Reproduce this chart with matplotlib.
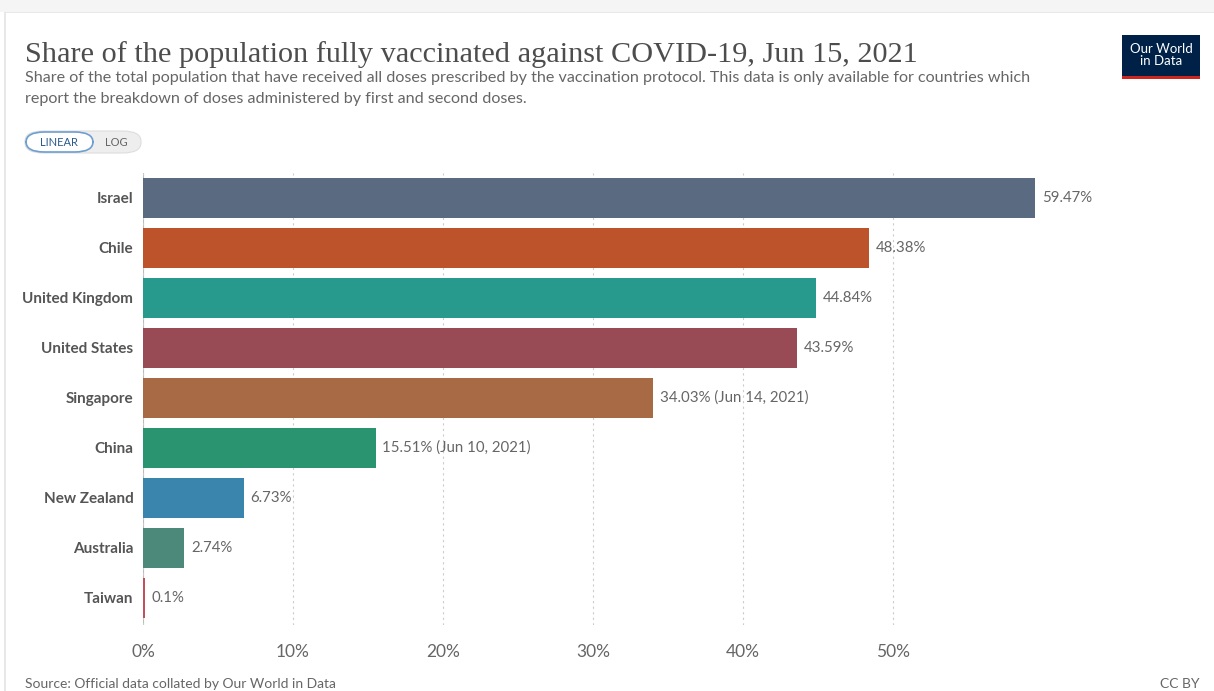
'''
Share of the population fully vaccinated against COVID-19 (OWID style bar chart)
'''

import matplotlib.pyplot as plt
from matplotlib.patches import FancyBboxPatch, Rectangle

COUNTRIES = ['Israel', 'Chile', 'United Kingdom', 'United States', 'Singapore',
             'China', 'New Zealand', 'Australia', 'Taiwan']
SHARES = [59.47, 48.38, 44.84, 43.59, 34.03, 15.51, 6.73, 2.74, 0.1]
VALUE_LABELS = ['59.47%', '48.38%', '44.84%', '43.59%', '34.03% (Jun 14, 2021)',
                '15.51% (Jun 10, 2021)', '6.73%', '2.74%', '0.1%']
COLORS = ['#5a6a80', '#bd532a', '#28998d', '#994b55', '#a86a45',
          '#2a9470', '#3985ae', '#4d897b', '#c2505c']
X_TICKS = [0, 10, 20, 30, 40, 50]

W, H = 1214, 691
fig = plt.figure(figsize=(W / 100, H / 100), dpi=100)
fig.patch.set_facecolor('white')

# card border
fig.add_artist(Rectangle((5 / W, -0.02), 1.1, (H - 12) / H + 0.02,
                         transform=fig.transFigure, fill=False,
                         edgecolor='#e4e4e4', linewidth=1.2))
fig.add_artist(Rectangle((0, (H - 12) / H), 1, 12 / H, transform=fig.transFigure,
                         facecolor='#f5f5f5', edgecolor='none'))

ax = fig.add_axes([143 / W, 66 / H, 900 / W, 452 / H])
pos = list(range(len(COUNTRIES)))
ax.barh(pos, SHARES, height=0.8, color=COLORS, zorder=2)

for p, v, lab in zip(pos, SHARES, VALUE_LABELS):
    ax.text(v + 0.45, p, lab, va='center', ha='left', fontsize=10.8,
            color='#666666', family='Lato', clip_on=False)

ax.set_xlim(0, 60)
ax.set_ylim(8.55, -0.5)
ax.set_yticks(pos)
ax.set_yticklabels(COUNTRIES, fontsize=11, color='#555555', family='Lato',
                   fontweight='bold')
ax.set_xticks(X_TICKS)
ax.set_xticklabels([f'{t}%' for t in X_TICKS], fontsize=12.5, color='#666666',
                   family='Lato')
ax.tick_params(axis='both', length=0)
ax.tick_params(axis='x', pad=14)
ax.tick_params(axis='y', pad=7)
for s in ax.spines.values():
    s.set_visible(False)
ax.grid(axis='x', linestyle=(0, (2, 3)), color='#cccccc', linewidth=0.8, zorder=0)
ax.axvline(0, color='#bbbbbb', linewidth=0.8, zorder=1)

# title and subtitle
fig.text(25 / W, 1 - 62 / H, 'Share of the population fully vaccinated against COVID-19, Jun 15, 2021',
         fontsize=21.8, family='Liberation Serif', color='#4d4d4d', va='baseline')
fig.text(25 / W, 1 - 78 / H,
         'Share of the total population that have received all doses prescribed by the vaccination protocol. '
         'This data is only available for countries which',
         fontsize=11.6, family='Lato', color='#666666', va='center')
fig.text(25 / W, 1 - 99 / H,
         'report the breakdown of doses administered by first and second doses.',
         fontsize=11.6, family='Lato', color='#666666', va='center')

# LINEAR / LOG toggle
fig.add_artist(FancyBboxPatch((25 / W, 1 - 153 / H), 116 / W, 22 / H,
                              boxstyle='round,pad=0,rounding_size=0.015',
                              transform=fig.transFigure, facecolor='#eeeeee',
                              edgecolor='#dddddd', linewidth=0.8))
fig.add_artist(FancyBboxPatch((26 / W, 1 - 152 / H), 67 / W, 20 / H,
                              boxstyle='round,pad=0,rounding_size=0.015',
                              transform=fig.transFigure, facecolor='white',
                              edgecolor='#6d9fd0', linewidth=1.2))
fig.text(59 / W, 1 - 142 / H, 'LINEAR', fontsize=8, family='Lato', color='#2b5b8c',
         ha='center', va='center')
fig.text(116 / W, 1 - 142 / H, 'LOG', fontsize=8, family='Lato', color='#666666',
         ha='center', va='center')

# logo
fig.add_artist(Rectangle((1122 / W, 1 - 76 / H), 78 / W, 41 / H, transform=fig.transFigure,
                         facecolor='#002147', edgecolor='none'))
fig.add_artist(Rectangle((1122 / W, 1 - 79 / H), 78 / W, 3 / H, transform=fig.transFigure,
                         facecolor='#ce261e', edgecolor='none'))
fig.text(1161 / W, 1 - 55 / H, 'Our World\nin Data', fontsize=9.5, family='Lato',
         color='white', ha='center', va='center', linespacing=0.95)

# footer
fig.text(25 / W, 1 - 684 / H, 'Source: Official data collated by Our World in Data',
         fontsize=10, family='Lato', color='#666666', va='center')
fig.text(1200 / W, 1 - 684 / H, 'CC BY', fontsize=10, family='Lato', color='#666666',
         va='center', ha='right')

fig.savefig('out.png', dpi=100)
